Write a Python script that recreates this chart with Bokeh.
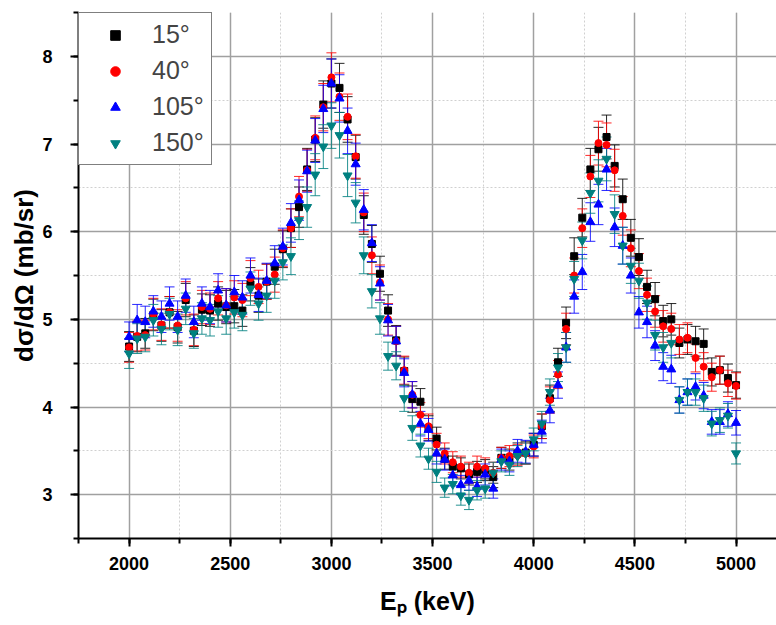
from bokeh.plotting import figure
from bokeh.models import (ColumnDataSource, Whisker, TeeHead, Legend, LegendItem,
                          SingleIntervalTicker)
from bokeh.embed import file_html
from bokeh.resources import INLINE

energy = [2000, 2040, 2080, 2120, 2160, 2200, 2240, 2280, 2320, 2360,
          2400, 2440, 2480, 2520, 2560, 2600, 2640, 2680, 2720, 2760,
          2800, 2840, 2880, 2920, 2960, 3000, 3040, 3080, 3120, 3160,
          3200, 3240, 3280, 3320, 3360, 3400, 3440, 3480, 3520, 3560,
          3600, 3640, 3680, 3720, 3760, 3800, 3840, 3880, 3920, 3960,
          4000, 4040, 4080, 4120, 4160, 4200, 4240, 4280, 4320, 4360,
          4400, 4440, 4480, 4520, 4560, 4600, 4640, 4680, 4720, 4760,
          4800, 4840, 4880, 4920, 4960, 5000]

labels = ["15°", "40°", "105°", "150°"]

y15 = [4.69, 4.80, 4.84, 5.05, 4.93, 5.08, 4.91, 5.22, 4.87, 5.11,
       5.10, 5.18, 5.14, 5.15, 5.10, 5.40, 5.27, 5.43, 5.60, 5.80,
       6.04, 6.28, 6.71, 7.05, 7.45, 7.69, 7.64, 7.28, 6.85, 6.19,
       5.86, 5.52, 5.10, 4.76, 4.41, 4.09, 4.06, 3.76, 3.64, 3.41,
       3.32, 3.30, 3.23, 3.26, 3.28, 3.20, 3.42, 3.40, 3.47, 3.48,
       3.57, 3.78, 4.10, 4.51, 4.96, 5.72, 6.16, 6.71, 6.94, 7.08,
       6.75, 6.37, 5.93, 5.71, 5.37, 5.23, 4.98, 5.00, 4.73, 4.77,
       4.75, 4.72, 4.40, 4.42, 4.33, 4.25]
e15 = [0.17, 0.17, 0.17, 0.18, 0.18, 0.18, 0.18, 0.19, 0.18, 0.18,
       0.18, 0.19, 0.19, 0.19, 0.18, 0.19, 0.19, 0.20, 0.20, 0.21,
       0.22, 0.23, 0.24, 0.25, 0.27, 0.28, 0.28, 0.26, 0.25, 0.22,
       0.21, 0.20, 0.18, 0.17, 0.16, 0.15, 0.15, 0.14, 0.13, 0.12,
       0.12, 0.12, 0.12, 0.12, 0.12, 0.12, 0.12, 0.12, 0.12, 0.13,
       0.13, 0.14, 0.15, 0.16, 0.18, 0.21, 0.22, 0.24, 0.25, 0.25,
       0.24, 0.23, 0.21, 0.21, 0.19, 0.19, 0.18, 0.18, 0.17, 0.17,
       0.17, 0.17, 0.16, 0.16, 0.16, 0.15]

y40 = [4.68, 4.81, 4.82, 5.06, 4.94, 5.08, 4.93, 5.24, 4.88, 5.14,
       5.12, 5.24, 5.16, 5.25, 5.22, 5.47, 5.37, 5.43, 5.51, 5.81,
       6.04, 6.40, 6.70, 7.07, 7.42, 7.76, 7.54, 7.31, 6.86, 6.22,
       5.73, 5.42, 5.00, 4.75, 4.42, 4.14, 3.91, 3.78, 3.57, 3.47,
       3.37, 3.32, 3.25, 3.32, 3.30, 3.25, 3.42, 3.44, 3.45, 3.47,
       3.55, 3.78, 4.08, 4.37, 4.89, 5.50, 6.04, 6.63, 7.01, 6.99,
       6.70, 6.18, 5.81, 5.55, 5.28, 5.09, 4.92, 4.89, 4.77, 4.79,
       4.56, 4.46, 4.34, 4.42, 4.27, 4.24]
e40 = [0.17, 0.17, 0.17, 0.18, 0.18, 0.18, 0.18, 0.19, 0.18, 0.19,
       0.18, 0.19, 0.19, 0.19, 0.19, 0.20, 0.19, 0.20, 0.20, 0.21,
       0.22, 0.23, 0.24, 0.25, 0.27, 0.28, 0.27, 0.26, 0.25, 0.22,
       0.21, 0.20, 0.18, 0.17, 0.16, 0.15, 0.14, 0.14, 0.13, 0.12,
       0.12, 0.12, 0.12, 0.12, 0.12, 0.12, 0.12, 0.12, 0.12, 0.12,
       0.13, 0.14, 0.15, 0.16, 0.18, 0.20, 0.22, 0.24, 0.25, 0.25,
       0.24, 0.22, 0.21, 0.20, 0.19, 0.18, 0.18, 0.18, 0.17, 0.17,
       0.16, 0.16, 0.16, 0.16, 0.15, 0.15]

y105 = [4.80, 4.99, 4.97, 5.09, 5.03, 5.18, 5.03, 5.27, 4.97, 5.18,
        5.14, 5.33, 5.16, 5.31, 5.25, 5.50, 5.28, 5.44, 5.64, 5.83,
        6.10, 6.36, 6.69, 7.04, 7.40, 7.69, 7.52, 7.15, 6.77, 6.25,
        5.87, 5.41, 4.99, 4.75, 4.39, 4.14, 3.81, 3.74, 3.47, 3.40,
        3.22, 3.11, 3.16, 3.09, 3.23, 3.07, 3.40, 3.38, 3.50, 3.49,
        3.57, 3.72, 3.96, 4.25, 4.68, 5.26, 5.54, 6.11, 6.31, 6.71,
        6.05, 5.84, 5.50, 5.08, 4.97, 4.70, 4.46, 4.43, 4.08, 4.17,
        4.23, 4.13, 3.83, 3.83, 3.92, 3.82]
e105 = [0.17, 0.18, 0.18, 0.18, 0.18, 0.19, 0.18, 0.19, 0.18, 0.19,
        0.19, 0.19, 0.19, 0.19, 0.19, 0.20, 0.19, 0.20, 0.20, 0.21,
        0.22, 0.23, 0.24, 0.25, 0.27, 0.28, 0.27, 0.26, 0.24, 0.23,
        0.21, 0.19, 0.18, 0.17, 0.16, 0.15, 0.14, 0.13, 0.12, 0.12,
        0.12, 0.11, 0.11, 0.11, 0.12, 0.11, 0.12, 0.12, 0.13, 0.13,
        0.13, 0.13, 0.14, 0.15, 0.17, 0.19, 0.20, 0.22, 0.23, 0.24,
        0.22, 0.21, 0.20, 0.18, 0.18, 0.17, 0.16, 0.16, 0.15, 0.15,
        0.15, 0.15, 0.14, 0.14, 0.14, 0.14]

y150 = [4.61, 4.78, 4.80, 4.99, 4.89, 5.06, 4.88, 5.12, 4.84, 5.01,
        4.99, 5.09, 5.01, 5.08, 5.05, 5.35, 5.18, 5.27, 5.44, 5.65,
        5.72, 6.13, 6.28, 6.65, 6.97, 7.21, 7.10, 6.64, 6.33, 5.73,
        5.32, 5.01, 4.58, 4.47, 4.10, 3.76, 3.56, 3.41, 3.26, 3.08,
        3.12, 2.99, 2.94, 3.05, 3.07, 3.25, 3.38, 3.34, 3.44, 3.47,
        3.63, 3.81, 4.17, 4.45, 4.68, 5.46, 5.90, 6.44, 6.58, 6.83,
        6.20, 5.84, 5.61, 5.44, 5.19, 4.82, 4.68, 4.73, 4.08, 4.17,
        4.17, 4.10, 3.81, 3.85, 3.90, 3.47]
e150 = [0.17, 0.17, 0.17, 0.18, 0.18, 0.18, 0.18, 0.18, 0.17, 0.18,
        0.18, 0.18, 0.18, 0.18, 0.18, 0.19, 0.19, 0.19, 0.20, 0.20,
        0.21, 0.22, 0.23, 0.24, 0.25, 0.26, 0.26, 0.24, 0.23, 0.21,
        0.19, 0.18, 0.16, 0.16, 0.15, 0.14, 0.13, 0.12, 0.12, 0.11,
        0.11, 0.11, 0.11, 0.11, 0.11, 0.12, 0.12, 0.12, 0.12, 0.12,
        0.13, 0.14, 0.15, 0.16, 0.17, 0.20, 0.21, 0.23, 0.24, 0.25,
        0.22, 0.21, 0.20, 0.20, 0.19, 0.17, 0.17, 0.17, 0.15, 0.15,
        0.15, 0.15, 0.14, 0.14, 0.14, 0.12]

series = [
    (labels[0], y15, e15, "black", "square", 7),
    (labels[1], y40, e40, "red", "circle", 7),
    (labels[2], y105, e105, "blue", "triangle", 9),
    (labels[3], y150, e150, "#008080", "inverted_triangle", 9),
]

FONT = "Liberation Sans"

p = figure(width=776, height=625, x_range=(1750, 5200), y_range=(2.5, 8.5),
           output_backend="svg", toolbar_location=None,
           min_border_left=78, min_border_right=0, min_border_top=12,
           min_border_bottom=87)
p.outline_line_color = None
p.background_fill_color = "white"

legend_items = []
for name, ys, es, col, marker, sz in series:
    src = ColumnDataSource(dict(
        x=energy, y=ys,
        lo=[a - b for a, b in zip(ys, es)],
        hi=[a + b for a, b in zip(ys, es)]))
    w = Whisker(source=src, base="x", lower="lo", upper="hi",
                line_color=col, line_width=1, line_alpha=0.85,
                upper_head=TeeHead(size=10, line_color=col, line_width=1, line_alpha=0.85),
                lower_head=TeeHead(size=10, line_color=col, line_width=1, line_alpha=0.85))
    p.add_layout(w)
    r = p.scatter("x", "y", source=src, marker=marker, size=sz,
                  fill_color=col, line_color=col)
    legend_items.append(LegendItem(label=name, renderers=[r]))

legend = Legend(items=legend_items, location="top_left", margin=0,
                border_line_color="black", border_line_width=1,
                background_fill_color="white", background_fill_alpha=1,
                label_text_font=FONT, label_text_font_size="25px",
                glyph_width=58, glyph_height=24, label_height=24,
                spacing=7, padding=7, label_standoff=8)
p.add_layout(legend, "center")

p.xaxis.ticker = SingleIntervalTicker(interval=500, num_minor_ticks=2)
p.yaxis.ticker = SingleIntervalTicker(interval=1, num_minor_ticks=2)

for ax in (p.xaxis, p.yaxis):
    ax.axis_line_width = 2
    ax.axis_line_color = "black"
    ax.major_tick_line_width = 2
    ax.minor_tick_line_width = 2
    ax.major_tick_in = 0
    ax.major_tick_out = 8
    ax.minor_tick_in = 0
    ax.minor_tick_out = 5
    ax.major_label_text_font = FONT
    ax.major_label_text_font_style = "bold"
    ax.major_label_text_font_size = "18px"
    ax.major_label_text_color = "black"
    ax.axis_label_text_font = FONT
    ax.axis_label_text_font_style = "bold"
    ax.axis_label_text_color = "black"

p.xaxis.axis_label_text_font_size = "25px"
p.yaxis.axis_label_text_font_size = "26px"
p.xaxis.axis_label = "Eₚ (keV)"
p.yaxis.axis_label = "dσ/dΩ (mb/sr)"
p.xaxis.major_label_standoff = 10
p.xaxis.axis_label_standoff = 14
p.yaxis.major_label_standoff = 18
p.yaxis.axis_label_standoff = 0

for g in (p.xgrid, p.ygrid):
    g.grid_line_color = "#a0a0a0"
    g.grid_line_width = 1.5
    g.minor_grid_line_color = "#d0d0d0"
    g.minor_grid_line_dash = "2 2"
    g.minor_grid_line_width = 1

open("out.html", "w").write(file_html(p, INLINE))
